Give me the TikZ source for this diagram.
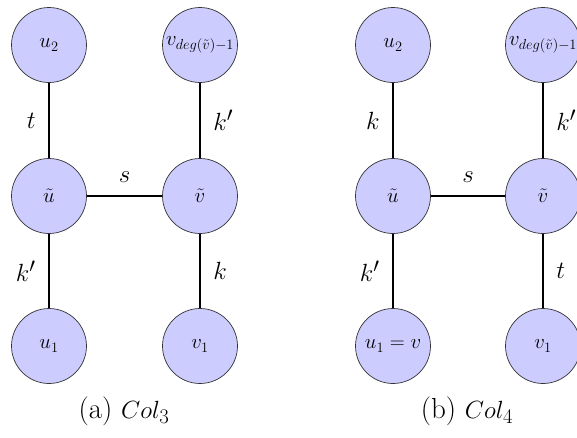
\documentclass[tikz,border=0pt]{standalone}
\usepackage{amsmath}
\begin{document}
\begin{tikzpicture}[x=1pt,y=-1pt,
  vert/.style={circle,draw=black!80,line width=0.7pt,fill=blue!20,minimum size=75pt,inner sep=0pt,font=\fontsize{22}{26}\selectfont},
  edge/.style={line width=2pt},
  elab/.style={font=\fontsize{28}{32}\selectfont},
  captext/.style={font=\fontsize{29}{33}\selectfont}]
\useasboundingbox (0,0) rectangle (577,437);
% (a)
\node[vert] (au2) at (49,45) {$u_2$};
\node[vert] (au) at (49,196) {$\tilde u$};
\node[vert] (au1) at (49,346) {$u_1$};
\node[vert] (avd) at (200,45) {$v_{deg(\tilde v)-1}$};
\node[vert] (av) at (200,196) {$\tilde v$};
\node[vert] (av1) at (200,346) {$v_1$};
\draw[edge] (au2) -- node[elab,left=9pt] {$t$} (au);
\draw[edge] (au) -- node[elab,left=9pt] {$k'$} (au1);
\draw[edge] (au) -- node[elab,above=9pt] {$s$} (av);
\draw[edge] (avd) -- node[elab,right=9pt] {$k'$} (av);
\draw[edge] (av) -- node[elab,right=9pt] {$k$} (av1);
\node[captext] (capa) at (124,411) {(a) $Col_3$};
% (b)
\node[vert] (bu2) at (393,45) {$u_2$};
\node[vert] (bu) at (393,196) {$\tilde u$};
\node[vert] (bu1) at (393,346) {$u_1=v$};
\node[vert] (bvd) at (543,45) {$v_{deg(\tilde v)-1}$};
\node[vert] (bv) at (543,196) {$\tilde v$};
\node[vert] (bv1) at (543,346) {$v_1$};
\draw[edge] (bu2) -- node[elab,left=9pt] {$k$} (bu);
\draw[edge] (bu) -- node[elab,left=9pt] {$k'$} (bu1);
\draw[edge] (bu) -- node[elab,above=9pt] {$s$} (bv);
\draw[edge] (bvd) -- node[elab,right=9pt] {$k'$} (bv);
\draw[edge] (bv) -- node[elab,right=9pt] {$t$} (bv1);
\node[captext] (capb) at (467,411) {(b) $Col_4$};
\end{tikzpicture}
\end{document}
